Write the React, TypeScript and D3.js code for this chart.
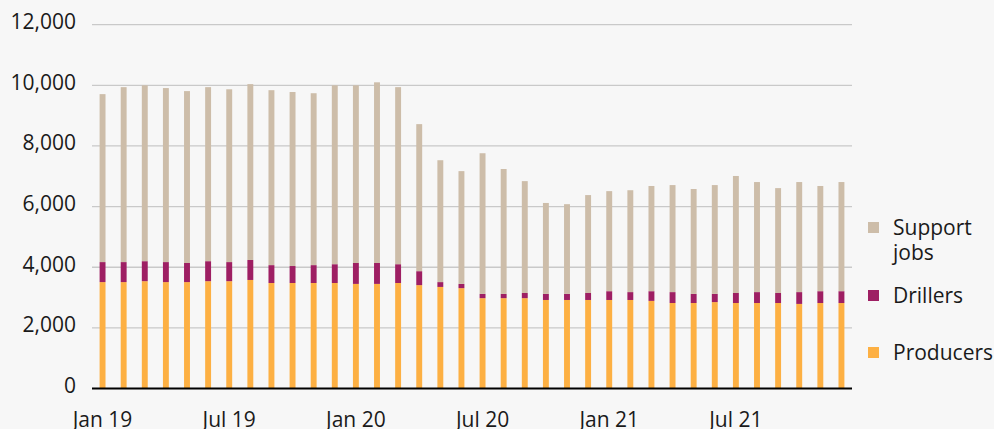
import React from "react";
import * as d3 from "d3";

const months = [
  "Jan 19","Feb 19","Mar 19","Apr 19","May 19","Jun 19","Jul 19","Aug 19","Sep 19","Oct 19","Nov 19","Dec 19",
  "Jan 20","Feb 20","Mar 20","Apr 20","May 20","Jun 20","Jul 20","Aug 20","Sep 20","Oct 20","Nov 20","Dec 20",
  "Jan 21","Feb 21","Mar 21","Apr 21","May 21","Jun 21","Jul 21","Aug 21","Sep 21","Oct 21","Nov 21","Dec 21",
];
const tickLabels = ["Jan 19", "Jul 19", "Jan 20", "Jul 20", "Jan 21", "Jul 21"];
const yTicks = [0, 2000, 4000, 6000, 8000, 10000, 12000];

const producers = [
  3510, 3510, 3540, 3510, 3510, 3540, 3540, 3580, 3480, 3480, 3480, 3480,
  3450, 3450, 3480, 3410, 3350, 3310, 2980, 2980, 2980, 2920, 2920, 2920,
  2920, 2920, 2890, 2820, 2820, 2850, 2820, 2820, 2820, 2790, 2820, 2820,
];
const drillers = [
  660, 660, 660, 660, 630, 660, 630, 660, 590, 560, 590, 620,
  690, 690, 620, 460, 160, 140, 140, 140, 170, 200, 200, 230,
  290, 260, 320, 360, 300, 270, 330, 360, 330, 390, 390, 390,
];
const support = [
  5540, 5770, 5800, 5740, 5670, 5740, 5700, 5800, 5770, 5740, 5670, 5900,
  5860, 5960, 5840, 4850, 4020, 3720, 4640, 4120, 3690, 3000, 2960, 3230,
  3300, 3360, 3470, 3530, 3460, 3590, 3860, 3630, 3460, 3630, 3470, 3600,
];

const seriesKeys = ["producers", "drillers", "support"];
const seriesNames = ["Producers", "Drillers", "Support jobs"];
const colors = ["#fdb043", "#9e1f63", "#cdbda9"];

export default function App() {
  const W = 994, H = 429;
  const left = 92, right = 852, top = 24.7, bottom = 388.5;
  const font = "'Open Sans', 'Noto Sans', sans-serif";
  const fs = 21;

  const x = d3.scaleBand<string>().domain(months).range([left, right]).paddingInner(0.72).paddingOuter(0.36);
  const y = d3.scaleLinear().domain([0, 12000]).range([bottom, top]);

  const table = months.map((m, i) => ({ m, producers: producers[i], drillers: drillers[i], support: support[i] }));
  const stack = d3.stack<any>().keys(seriesKeys)(table);

  const legend = [
    { name: ["Support", "jobs"], color: colors[2], sq: 222, base: 235 },
    { name: ["Drillers"], color: colors[1], sq: 290, base: 302.5 },
    { name: ["Producers"], color: colors[0], sq: 347, base: 360 },
  ];

  return (
    <div style={{ position: "fixed", left: 0, top: 0, width: W, height: H, background: "#f7f7f7" }}>
      <svg width={W} height={H} style={{ display: "block", fontFamily: font }}>
        <rect x={0} y={0} width={W} height={H} fill="#f7f7f7" />
        {yTicks.map((t) => (
          <g key={t}>
            {t !== 0 && (
              <line x1={left} x2={right} y1={y(t)} y2={y(t)} stroke="#c9c9c9" strokeWidth={1.3} />
            )}
            <text x={76} y={y(t) + 4.5} textAnchor="end" fontSize={fs} fill="#1a1a1a">
              {d3.format(",")(t)}
            </text>
          </g>
        ))}
        {stack.map((s, si) => (
          <g key={seriesKeys[si]} fill={colors[si]}>
            {s.map((d, i) => (
              <rect
                key={i}
                x={x(months[i])}
                y={y(d[1])}
                width={x.bandwidth()}
                height={y(d[0]) - y(d[1])}
              />
            ))}
          </g>
        ))}
        <line x1={left} x2={right} y1={bottom} y2={bottom} stroke="#000" strokeWidth={2} />
        {tickLabels.map((t) => (
          <text key={t} x={(x(t) ?? 0) + x.bandwidth() / 2} y={426.5} textAnchor="middle" fontSize={fs} fill="#1a1a1a">
            {t}
          </text>
        ))}
        {legend.map((l) => (
          <g key={l.name.join(" ")}>
            <rect x={868} y={l.sq} width={11} height={11} fill={l.color} />
            {l.name.map((n, k) => (
              <text key={n} x={893} y={l.base + k * 25} fontSize={fs} fill="#1a1a1a">
                {n}
              </text>
            ))}
          </g>
        ))}
      </svg>
    </div>
  );
}
